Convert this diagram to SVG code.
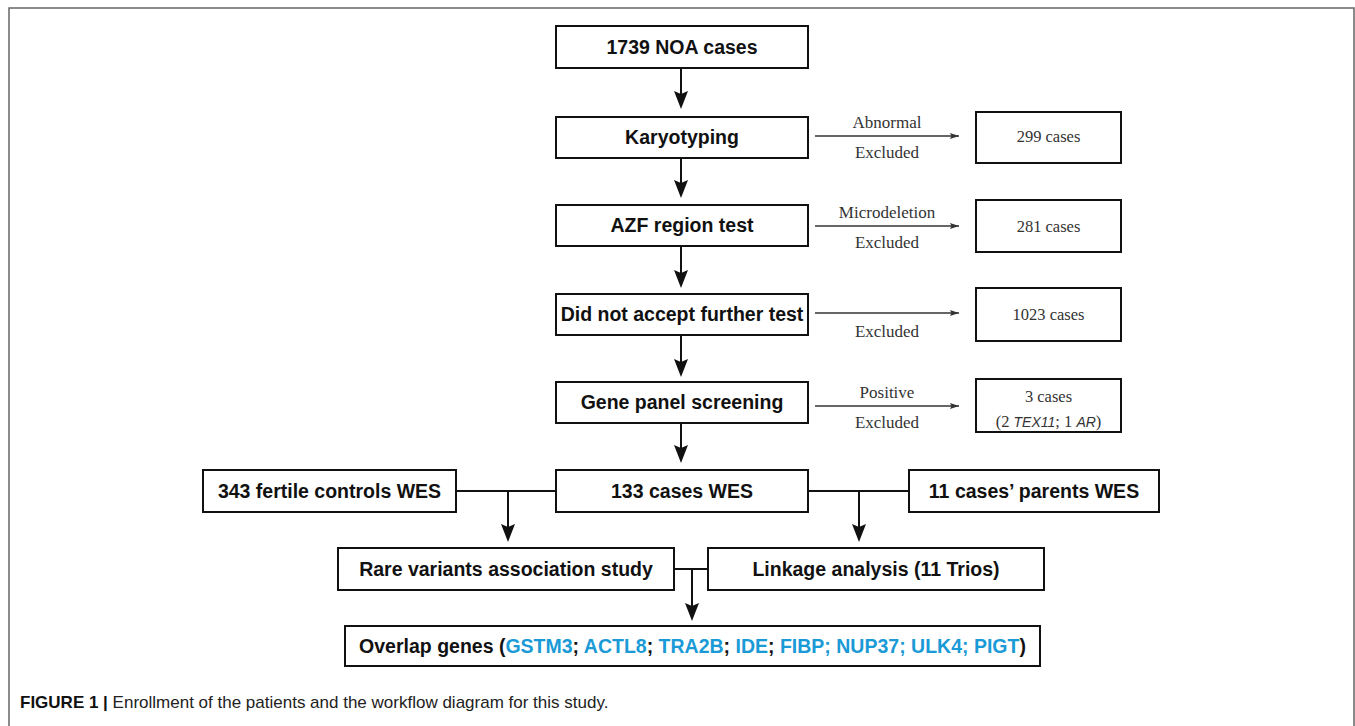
<svg xmlns="http://www.w3.org/2000/svg" width="1355" height="726" viewBox="0 0 1355 726">
  <style>
    .box { fill: #fff; stroke: #111; stroke-width: 2; }
    .lbl { font-family: "Liberation Sans", Arial, sans-serif; font-weight: bold; font-size: 19.5px; fill: #111; text-anchor: middle; }
    .side { font-family: "Liberation Serif", "Times New Roman", serif; font-size: 17px; fill: #333; text-anchor: middle; }
    .cnt { font-family: "Liberation Serif", "Times New Roman", serif; font-size: 16.5px; fill: #333; text-anchor: middle; }
    .gene { fill: #1a9ad6; }
    .flow { fill: none; stroke: #111; stroke-width: 2; }
    .thin { fill: none; stroke: #333; stroke-width: 1.3; }
    .frame { fill: none; stroke: #666; stroke-width: 1.5; }
    .cap { font-family: "Liberation Sans", Arial, sans-serif; font-size: 17px; fill: #222; }
  </style>
  <defs>
    <marker id="bigHead" viewBox="0 0 18 14" refX="10" refY="7" markerWidth="18" markerHeight="14" markerUnits="userSpaceOnUse" orient="auto">
      <path d="M0,0 L18,7 L0,14 L3,7 z" fill="#111"/>
    </marker>
    <marker id="smallHead" viewBox="0 0 9 6" refX="9" refY="3" markerWidth="9" markerHeight="6" markerUnits="userSpaceOnUse" orient="auto">
      <path d="M0,0 L9,3 L0,6 L1.5,3 z" fill="#333"/>
    </marker>
  </defs>

  <rect width="1355" height="726" fill="#fff"/>
  <!-- figure frame -->
  <path class="frame" d="M9,726 V8 H1354 V726"/>

  <!-- connectors -->
  <g id="connectors">
    <!-- main vertical flow -->
    <line class="flow" x1="681" y1="68" x2="681" y2="101" marker-end="url(#bigHead)"/>
    <line class="flow" x1="681" y1="158" x2="681" y2="190" marker-end="url(#bigHead)"/>
    <line class="flow" x1="681" y1="246" x2="681" y2="280" marker-end="url(#bigHead)"/>
    <line class="flow" x1="681" y1="335" x2="681" y2="369" marker-end="url(#bigHead)"/>
    <line class="flow" x1="681" y1="423" x2="681" y2="455" marker-end="url(#bigHead)"/>
    <!-- exclusions -->
    <line class="thin" x1="815" y1="136" x2="959" y2="136" marker-end="url(#smallHead)"/>
    <line class="thin" x1="815" y1="226" x2="959" y2="226" marker-end="url(#smallHead)"/>
    <line class="thin" x1="815" y1="313" x2="959" y2="313" marker-end="url(#smallHead)"/>
    <line class="thin" x1="815" y1="406" x2="959" y2="406" marker-end="url(#smallHead)"/>
    <!-- WES merges -->
    <path class="flow" d="M456,491 H556"/>
    <line class="flow" x1="508" y1="491" x2="508" y2="534" marker-end="url(#bigHead)"/>
    <path class="flow" d="M808,491 H909"/>
    <line class="flow" x1="859" y1="491" x2="859" y2="534" marker-end="url(#bigHead)"/>
    <path class="flow" d="M674,569 H708"/>
    <line class="flow" x1="692" y1="569" x2="692" y2="613" marker-end="url(#bigHead)"/>
  </g>

  <g id="n-noa">
    <rect class="box" x="556" y="26" width="252" height="42"/>
    <text class="lbl" x="682" y="54">1739 NOA cases</text>
  </g>
  <g id="n-karyotyping">
    <rect class="box" x="556" y="117" width="252" height="41"/>
    <text class="lbl" x="682" y="144">Karyotyping</text>
  </g>
  <g id="n-azf">
    <rect class="box" x="556" y="205" width="252" height="41"/>
    <text class="lbl" x="682" y="232">AZF region test</text>
  </g>
  <g id="n-declined">
    <rect class="box" x="556" y="294" width="252" height="41"/>
    <text class="lbl" x="682" y="321">Did not accept further test</text>
  </g>
  <g id="n-panel">
    <rect class="box" x="556" y="382" width="252" height="41"/>
    <text class="lbl" x="682" y="409">Gene panel screening</text>
  </g>
  <g id="n-cases-wes">
    <rect class="box" x="556" y="470" width="252" height="42"/>
    <text class="lbl" x="682" y="498">133 cases WES</text>
  </g>
  <g id="n-controls-wes">
    <rect class="box" x="203" y="470" width="253" height="42"/>
    <text class="lbl" x="329.5" y="498">343 fertile controls WES</text>
  </g>
  <g id="n-parents-wes">
    <rect class="box" x="909" y="470" width="250" height="42"/>
    <text class="lbl" x="1034" y="498">11 cases’ parents WES</text>
  </g>
  <g id="n-association">
    <rect class="box" x="338" y="548" width="336" height="42"/>
    <text class="lbl" x="506" y="576">Rare variants association study</text>
  </g>
  <g id="n-linkage">
    <rect class="box" x="708" y="548" width="336" height="42"/>
    <text class="lbl" x="876" y="576">Linkage analysis (11 Trios)</text>
  </g>
  <g id="n-overlap">
    <rect class="box" x="345" y="626" width="695" height="40"/>
    <text class="lbl" x="692.5" y="653">Overlap genes (<tspan class="gene">GSTM3</tspan>; <tspan class="gene">ACTL8</tspan>; <tspan class="gene">TRA2B</tspan>; <tspan class="gene">IDE</tspan>; <tspan class="gene">FIBP; NUP37; ULK4; PIGT</tspan>)</text>
  </g>

  <!-- excluded groups -->
  <g id="n-ex-karyotype">
    <text class="side" x="887" y="128">Abnormal</text>
    <text class="side" x="887" y="158">Excluded</text>
    <rect class="box" x="976" y="112" width="145" height="51"/>
    <text class="cnt" x="1048.5" y="142">299 cases</text>
  </g>
  <g id="n-ex-azf">
    <text class="side" x="887" y="218">Microdeletion</text>
    <text class="side" x="887" y="248">Excluded</text>
    <rect class="box" x="976" y="200" width="145" height="52"/>
    <text class="cnt" x="1048.5" y="232">281 cases</text>
  </g>
  <g id="n-ex-declined">
    <text class="side" x="887" y="337">Excluded</text>
    <rect class="box" x="976" y="288" width="145" height="53"/>
    <text class="cnt" x="1048.5" y="320">1023 cases</text>
  </g>
  <g id="n-ex-panel">
    <text class="side" x="887" y="398">Positive</text>
    <text class="side" x="887" y="428">Excluded</text>
    <rect class="box" x="976" y="379" width="145" height="53"/>
    <text class="cnt" x="1048.5" y="402">3 cases</text>
    <text class="cnt" x="1048.5" y="427">(2 <tspan font-family="Liberation Sans, Arial, sans-serif" font-style="italic" font-size="14">TEX11</tspan>; 1 <tspan font-family="Liberation Sans, Arial, sans-serif" font-style="italic" font-size="14">AR</tspan>)</text>
  </g>

  <!-- caption -->
  <text class="cap" x="20" y="708"><tspan font-weight="bold" fill="#111">FIGURE 1 | </tspan>Enrollment of the patients and the workflow diagram for this study.</text>
</svg>
